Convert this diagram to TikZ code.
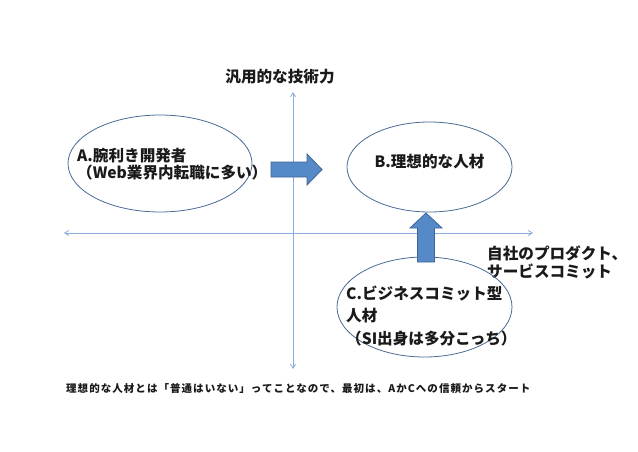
\documentclass[tikz,border=0pt]{standalone}
\usepackage{fontspec}
\setmainfont{Noto Sans CJK JP}
\newfontfamily\spacedfont[LetterSpace=10]{Noto Sans CJK JP}
\usetikzlibrary{shapes.geometric,arrows.meta}
\definecolor{axisblue}{HTML}{8AAEDA}
\definecolor{ellline}{HTML}{4A6B94}
\definecolor{arrfill}{HTML}{5589C8}
\definecolor{arrline}{HTML}{3F6795}
\definecolor{txt}{HTML}{1A1A1A}
\tikzset{
  axisline/.style={draw=axisblue, line width=0.8pt, {Straight Barb[length=4pt,width=5pt]}-{Straight Barb[length=4pt,width=5pt]}},
  ellbox/.style={ellipse, draw=ellline, line width=0.8pt, inner sep=0pt},
  lbl/.style={font=\fontsize{15.6}{17}\selectfont\bfseries, text=txt, inner sep=0pt},
  blockarrow/.style={fill=arrfill, draw=arrline, line width=0.8pt, line join=miter},
}
\begin{document}
\begin{tikzpicture}[x=1pt,y=-1pt]
\useasboundingbox[fill=white] (0,0) rectangle (638,452);
% axes
\coordinate (vtop) at (293,92);
\coordinate (vbot) at (293,369);
\coordinate (hleft) at (64,233);
\coordinate (hright) at (533,233);
\draw[axisline] (vbot) -- (vtop);
\draw[axisline] (hleft) -- (hright);
% axis labels
\node[lbl] (ylabel) at (280,77) {汎用的な技術力};
\node[lbl, align=left, anchor=west, font=\fontsize{15.6}{18}\selectfont\bfseries] (xlabel) at (487,262) {自社のプロダクト、\\サービスコミット};
% ellipses
\node[ellbox, minimum width=184pt, minimum height=97pt] (ellA) at (160,163.5) {};
\node[ellbox, minimum width=165pt, minimum height=90pt] (ellB) at (429.5,167) {};
\node[ellbox, minimum width=175pt, minimum height=100pt] (ellC) at (424.5,307) {};
% texts
\node[lbl, align=left, anchor=west] (tA) at (77,164.5) {A.腕利き開発者\\（Web業界内転職に多い）};
\node[lbl] (tB) at (ellB.center) [yshift=5pt] {B.理想的な人材};
\node[lbl, align=left, anchor=west, font=\fontsize{15.6}{22.5}\selectfont\bfseries] (tC) at (346,315.5) {C.ビジネスコミット型\\人材\\（SI出身は多分こっち）};
% block arrows
\draw[blockarrow] (271,162) -- (307,162) -- (307,154) -- (322,169.5) -- (307,185) -- (307,177) -- (271,177) -- cycle;
\draw[blockarrow] (417.5,262) -- (417.5,228) -- (410,228) -- (426,213) -- (442,228) -- (434.5,228) -- (434.5,262) -- cycle;
% bottom note
\node[inner sep=0pt, anchor=west, text=txt, font=\spacedfont\fontsize{10.5}{12}\selectfont\bfseries] (note) at (66,389) {理想的な人材とは「普通はいない」ってことなので、最初は、AかCへの信頼からスタート};
\end{tikzpicture}
\end{document}
